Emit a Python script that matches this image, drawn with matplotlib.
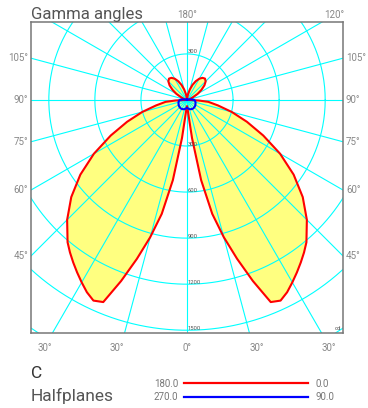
import numpy as np
import matplotlib.pyplot as plt
from matplotlib.lines import Line2D

plt.rcParams['font.family'] = ['Roboto', 'DejaVu Sans']

# luminous intensity distribution, cd, per gamma angle
gamma = [0, 2.5, 5, 7.5, 10, 12.5, 15, 17.5, 20, 22.5, 25, 27.5, 30, 32.5, 35, 37.5, 40,
         45, 50, 55, 60, 65, 70, 75, 80, 85, 87.5, 90, 95, 100, 105, 110, 115, 120,
         125, 130, 135, 140, 145, 150, 155, 160, 165, 170, 175, 180]
c0 = [40, 45, 80, 250, 530, 760, 925, 1085, 1255, 1425, 1442, 1412, 1372, 1332, 1292, 1252, 1210,
      1104, 984, 848, 700, 548, 415, 302, 205, 140, 75, 10, 3, 6, 13, 26, 46, 80,
      115, 148, 172, 182, 176, 160, 135, 105, 70, 38, 12, 0]
c180 = list(c0)
c90 = [50, 52, 54, 56, 58, 60, 62, 63, 64, 65, 66, 67, 67, 68, 68, 68, 68,
       67, 66, 65, 63, 61, 59, 57, 55, 52, 50, 46, 36, 22, 12, 7, 5, 4,
       4, 3, 3, 3, 3, 3, 3, 3, 3, 3, 3, 3]
c270 = list(c90)

rings = [300, 600, 900, 1200, 1500, 1800]
left_angles = [105, 90, 75, 60, 45]
bottom_angles = [-30, -15, 0, 15, 30]
bottom_labels = ['30°', '30°', '0°', '30°', '30°']

xmax = 1016
ymin, ymax = -1518, 508

fig = plt.figure(figsize=(3.68, 4.08), dpi=100)
ax = fig.add_axes([31 / 368, 1 - 333 / 408, 312 / 368, 311 / 408])
ax.set_xlim(-xmax, xmax)
ax.set_ylim(ymin, ymax)
ax.set_xticks([])
ax.set_yticks([])
for s in ax.spines.values():
    s.set_color('#777777')
    s.set_linewidth(1.1)

g = np.radians(gamma)


def halfplanes(right, left):
    r1 = np.array(right)
    r2 = np.array(left)
    x = np.concatenate([(-r2 * np.sin(g))[::-1], r1 * np.sin(g)])
    y = np.concatenate([(-r2 * np.cos(g))[::-1], -r1 * np.cos(g)])
    return x, y


xr, yr = halfplanes(c0, c180)
xb, yb = halfplanes(c90, c270)
ax.fill(xr, yr, color='#ffff80', lw=0, zorder=1)
ax.fill(xb, yb, color='#ffff80', lw=0, zorder=1)

# grid
t = np.linspace(0, 2 * np.pi, 400)
for r in rings:
    ax.plot(r * np.cos(t), r * np.sin(t), color='#00ffff', lw=0.8, zorder=2)
for a in range(0, 360, 15):
    ar = np.radians(a)
    ax.plot([0, 3000 * np.sin(ar)], [0, -3000 * np.cos(ar)], color='#00ffff', lw=0.8, zorder=2)

ax.plot(xr, yr, color='#ff0000', lw=1.5, zorder=3, solid_joinstyle='round')
ax.plot(xb, yb, color='#0000ff', lw=1.5, zorder=4, solid_joinstyle='round')

# ring labels
small = dict(fontsize=4.2, color='#555555', zorder=5)
ax.annotate('300', (0, 300), xytext=(1, 0), textcoords='offset pixels',
            ha='left', va='bottom', **small)
for r in rings[:5]:
    ax.annotate(str(r), (0, -r), xytext=(1, 2), textcoords='offset pixels',
                ha='left', va='center', **small)
ax.annotate('cd', (xmax, ymin), xytext=(-2, 2), textcoords='offset pixels',
            ha='right', va='bottom', **small)

# gamma labels
lab = dict(fontsize=7, color='#888888', annotation_clip=False)
for a in left_angles:
    y = -xmax * np.cos(np.radians(a)) / np.sin(np.radians(a))
    ax.annotate(f'{a}°', (-xmax, y), xytext=(-3, 0), textcoords='offset pixels',
                ha='right', va='center', **lab)
    ax.annotate(f'{a}°', (xmax, y), xytext=(3, 0), textcoords='offset pixels',
                ha='left', va='center', **lab)
for a, s in zip(bottom_angles, bottom_labels):
    x = -ymin * np.tan(np.radians(a))
    ha = 'center' if a == 0 else ('right' if a < 0 else 'left')
    ax.annotate(s, (x, ymin), xytext=(0, -15), textcoords='offset pixels',
                ha=ha, va='center', **lab)
ax.annotate('180°', (0, ymax), xytext=(0, 7), textcoords='offset pixels',
            ha='center', va='center', **lab)
ax.annotate('120°', (ymax * np.tan(np.radians(60)), ymax), xytext=(2, 7),
            textcoords='offset pixels', ha='left', va='center', **lab)

# headings
fig.text(31 / 368, 1 - 18.5 / 408, 'Gamma angles', fontsize=12, color='#555555',
         ha='left', va='baseline')
fig.text(31 / 368, 1 - 378.5 / 408, 'C', fontsize=12.5, color='#333333',
         ha='left', va='baseline')
fig.text(31 / 368, 1 - 401 / 408, 'Halfplanes', fontsize=12.5, color='#555555',
         ha='left', va='baseline')

# legend
leg = [('180.0', '0.0', '#ff0000', 383.3), ('270.0', '90.0', '#0000ff', 397)]
for left, right, col, yy in leg:
    fy = 1 - yy / 408
    fig.add_artist(Line2D([184 / 368, 308 / 368], [fy, fy], color=col, lw=1.6))
    fig.text(178.5 / 368, fy - 3.3 / 408, left, fontsize=7, color='#777777',
             ha='right', va='baseline')
    fig.text(316 / 368, fy - 3.3 / 408, right, fontsize=7, color='#777777',
             ha='left', va='baseline')

fig.savefig('out.png', dpi=100)
